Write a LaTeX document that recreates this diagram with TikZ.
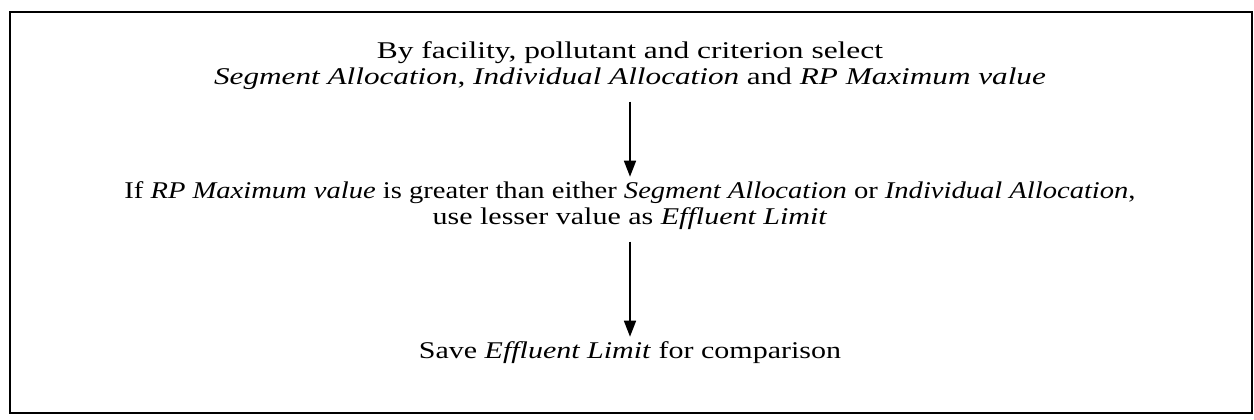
\documentclass[tikz,border=0pt]{standalone}
\usepackage{fontspec}
\usepackage{graphicx}
\setmainfont{Liberation Serif}
\usetikzlibrary{arrows.meta}
\newcommand{\wline}[2]{\scalebox{#1}[1]{#2}}
\begin{document}
\begin{tikzpicture}[x=0.5pt,y=-0.5pt,
  txt/.style={align=center,font=\fontsize{12}{13}\selectfont,inner xsep=0pt,inner ysep=1pt},
  flow/.style={line width=0.8pt,-{Triangle[width=6pt,length=8pt]},shorten <=5pt,shorten >=1pt},
  frame/.style={line width=1pt}]
\useasboundingbox (0,0) rectangle (1254,419);
\draw[frame] (10,12) rectangle (1252,413);
\node[txt,anchor=base] (n1) at (630,84) {\wline{1.31}{By facility, pollutant and criterion select}\\\wline{1.30}{\textit{Segment Allocation}, \textit{Individual Allocation} and \textit{RP Maximum value}}};
\node[txt,anchor=base] (n2) at (630,224) {\wline{1.19}{If \textit{RP Maximum value} is greater than either \textit{Segment Allocation} or \textit{Individual Allocation},}\\\wline{1.25}{use lesser value as \textit{Effluent Limit}}};
\node[txt,anchor=base] (n3) at (630,358) {\wline{1.25}{Save \textit{Effluent Limit} for comparison}};
\draw[flow] (n1) -- (n2);
\draw[flow] (n2) -- (n3);
\end{tikzpicture}
\end{document}
